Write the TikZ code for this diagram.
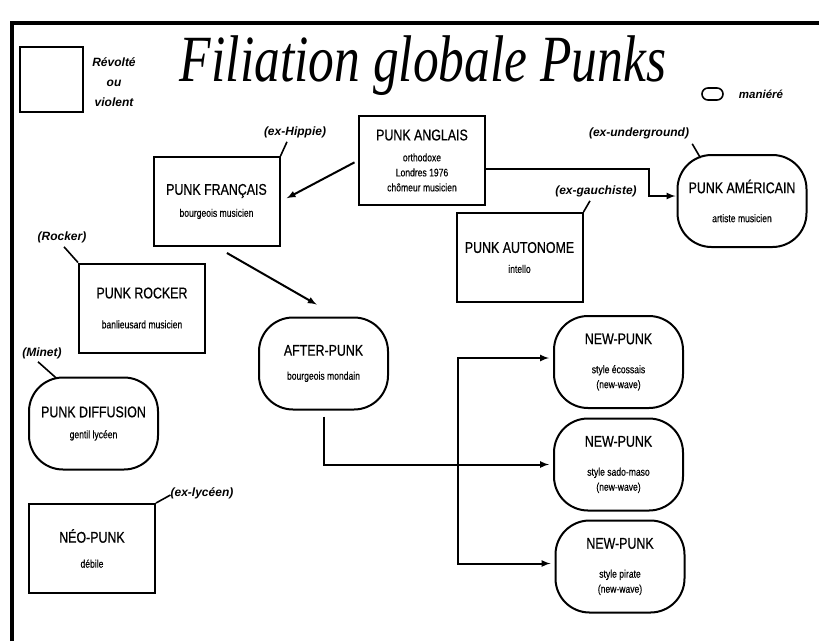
\documentclass[tikz,border=0pt]{standalone}
\usepackage{fontspec}
\usetikzlibrary{arrows,calc,positioning}
\newfontfamily\titlefont{Liberation Serif}[FakeStretch=0.78]
\newfontfamily\boxfont{Liberation Sans}[FakeStretch=0.8, FakeBold=0.6]
\newfontfamily\subfont{Liberation Sans}[FakeStretch=0.78, FakeBold=0.3]
\newfontfamily\notefont{Liberation Sans}
\newcommand\subtxt[1]{{\subfont\fontsize{11}{13}\selectfont #1}}
\tikzset{
	rectbox/.style={draw, line width=2pt, minimum width=126pt, minimum height=89pt, inner sep=0pt, align=center, font=\boxfont\fontsize{15.5}{19}\selectfont},
	ovalbox/.style={rectbox, rounded corners=34pt, minimum width=129pt, minimum height=92pt},
	note/.style={font=\notefont\bfseries\itshape\fontsize{12}{14}\selectfont, inner sep=1pt},
	arr/.style={-latex, line width=2pt},
	leader/.style={line width=1.6pt}
}

\begin{document}
\begin{tikzpicture}[x=1pt,y=-1pt]
	\useasboundingbox (0,0) rectangle (819,641);
	\draw[line width=4pt] (12,641) -- (12,23) -- (819,23);
	\node[font=\titlefont\itshape\fontsize{66}{70}\selectfont, anchor=base] (title) at (423,81) {Filiation globale Punks};
	\node[draw, line width=2pt, minimum width=63pt, minimum height=65pt, inner sep=0pt] (legrect) at (51.5,79.5) {};
	\node[note, align=center, font=\notefont\bfseries\itshape\fontsize{12}{20}\selectfont] (legtext) at (114,82) {Révolté\\ou\\violent};
	\node[draw, line width=1.6pt, rounded corners=6pt, minimum width=21pt, minimum height=12pt, inner sep=0pt] (legoval) at (712.5,94) {};
	\node[note, font=\notefont\bfseries\itshape\fontsize{11.5}{14}\selectfont] (legman) at (761,94) {maniéré};
	\node[rectbox] (francais) at (216.5,201.5) {PUNK FRANÇAIS\\[3pt]\subtxt{bourgeois musicien}};
	\node[rectbox] (anglais) at (422,160.5) {PUNK ANGLAIS\\[2pt]\subtxt{orthodoxe}\\[-4pt]\subtxt{Londres 1976}\\[-4pt]\subtxt{chômeur musicien}};
	\node[ovalbox] (americain) at (742,201) {PUNK AMÉRICAIN\\[10pt]\subtxt{artiste musicien}};
	\node[rectbox] (autonome) at (519.5,257.5) {PUNK AUTONOME\\[1pt]\subtxt{intello}};
	\node[rectbox] (rocker) at (142,308) {PUNK ROCKER\\[11pt]\subtxt{banlieusard musicien}};
	\node[ovalbox] (after) at (323.5,363.5) {AFTER-PUNK\\[5pt]\subtxt{bourgeois mondain}};
	\node[ovalbox] (diffusion) at (93.5,423.5) {PUNK DIFFUSION\\[2pt]\subtxt{gentil lycéen}};
	\node[rectbox] (neo) at (92,548.5) {NÉO-PUNK\\[6pt]\subtxt{débile}};
	\node[ovalbox] (new1) at (618.5,362) {NEW-PUNK\\[10pt]\subtxt{style écossais}\\[-4pt]\subtxt{(new-wave)}};
	\node[ovalbox] (new2) at (618.5,464.5) {NEW-PUNK\\[10pt]\subtxt{style sado-maso}\\[-4pt]\subtxt{(new-wave)}};
	\node[ovalbox] (new3) at (620,566.5) {NEW-PUNK\\[10pt]\subtxt{style pirate}\\[-4pt]\subtxt{(new-wave)}};
	\node[note] (hippie) at (295,132) {(ex-Hippie)};
	\node[note] (underground) at (639,133) {(ex-underground)};
	\node[note] (gauchiste) at (596,191) {(ex-gauchiste)};
	\node[note] (rockerlbl) at (62,237) {(Rocker)};
	\node[note] (minet) at (42,353) {(Minet)};
	\node[note] (lyceen) at (202,493) {(ex-lycéen)};
	\draw[leader] ($(hippie.south)+(-8,3)$) -- (francais.north east);
	\draw[leader] ($(underground.south east)+(2,4)$) -- ($(americain.north west)+(24,4)$);
	\draw[leader] ($(gauchiste.south)+(-6,3)$) -- (autonome.north east);
	\draw[leader] ($(rockerlbl.south)+(2,3)$) -- (rocker.north west);
	\draw[leader] ($(minet.south)+(-4,2)$) -- ($(diffusion.128)+(0,2)$);
	\draw[leader] (neo.north east) -- ($(lyceen.west)+(1,2)$);
	\draw[arr, shorten <=4pt, shorten >=7pt] (anglais.west) -- (francais.east);
	\draw[arr, shorten >=1pt] ($(anglais.east)+(0,8)$) -- ++(163,0) |- ($(americain.west)+(0,-5)$);
	\draw[arr, shorten <=12pt, shorten >=24pt] (francais.south) -- ($(after.north)+(14,0)$);
	\draw[arr, shorten <=6pt, shorten >=4pt] (after.south) |- (new2.west);
	\coordinate (trunk) at (458,464.5);
	\draw[arr, shorten >=4pt] (trunk) |- ($(new1.west)+(0,-4)$);
	\draw[arr, shorten >=4pt] (trunk) |- ($(new3.west)+(0,-3)$);
\end{tikzpicture}
\end{document}
